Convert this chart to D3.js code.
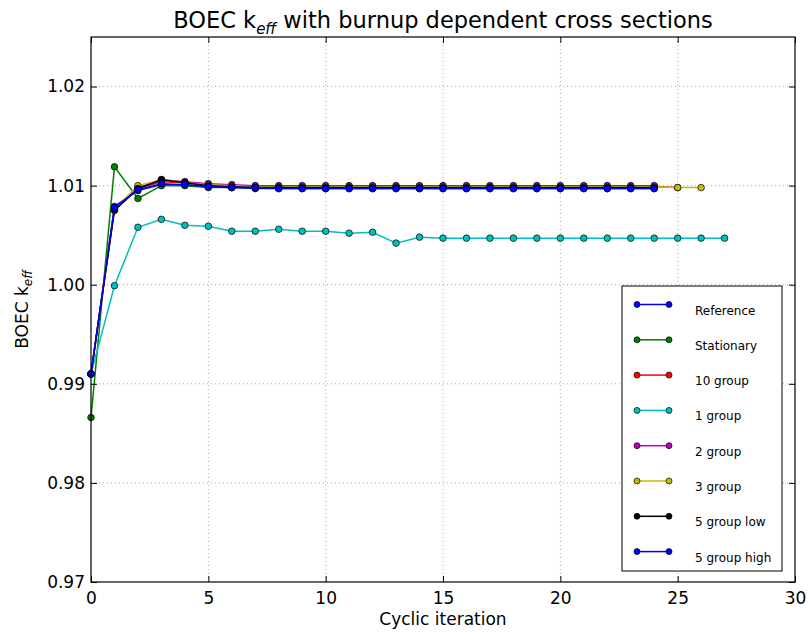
<!DOCTYPE html>
<html>
<head>
<meta charset="utf-8">
<script src="https://cdn.jsdelivr.net/npm/d3@7"></script>
<style>
  body { margin: 0; background: #fff; }
  text { font-family: "DejaVu Sans", sans-serif; }
</style>
</head>
<body>
<div id="chart"></div>
<script>
// series values (x = cyclic iteration index)
var reference   = [0.9910, 1.0079, 1.0095, 1.0101, 1.0101, 1.0099, 1.0098, 1.0097, 1.0097, 1.0097, 1.0097, 1.0097, 1.0097, 1.0097, 1.0097, 1.0097, 1.0097, 1.0097, 1.0097, 1.0097, 1.0097, 1.0097, 1.0097, 1.0097, 1.0097];
var stationary  = [0.9866, 1.0119, 1.0087, 1.0100, 1.0100, 1.0098, 1.0098, 1.0098, 1.0098, 1.0098, 1.0098, 1.0098, 1.0098, 1.0098, 1.0098, 1.0098, 1.0098, 1.0098, 1.0098, 1.0098, 1.0098, 1.0098, 1.0098, 1.0098, 1.0098];
var group10     = [0.9910, 1.0077, 1.0097, 1.0104, 1.0103, 1.0101, 1.0099, 1.0099, 1.0099, 1.0099, 1.0099, 1.0099, 1.0099, 1.0099, 1.0099, 1.0099, 1.0099, 1.0099, 1.0099, 1.0099, 1.0099, 1.0099, 1.0099, 1.0099, 1.0099, 1.0098];
var group1      = [0.9910, 0.9999, 1.0058, 1.0066, 1.0060, 1.0059, 1.0054, 1.0054, 1.0056, 1.0054, 1.0054, 1.0052, 1.0053, 1.0042, 1.0048, 1.0047, 1.0047, 1.0047, 1.0047, 1.0047, 1.0047, 1.0047, 1.0047, 1.0047, 1.0047, 1.0047, 1.0047, 1.0047];
var group2      = [0.9910, 1.0077, 1.0098, 1.0106, 1.0104, 1.0102, 1.0101, 1.0100, 1.0100, 1.0100, 1.0100, 1.0100, 1.0100, 1.0100, 1.0100, 1.0100, 1.0100, 1.0100, 1.0100, 1.0100, 1.0100, 1.0100, 1.0100, 1.0100, 1.0100];
var group3      = [0.9910, 1.0076, 1.0100, 1.0106, 1.0103, 1.0101, 1.0100, 1.0099, 1.0099, 1.0099, 1.0099, 1.0099, 1.0099, 1.0099, 1.0099, 1.0099, 1.0099, 1.0099, 1.0099, 1.0099, 1.0099, 1.0099, 1.0099, 1.0099, 1.0099, 1.0098, 1.0098];
var group5low   = [0.9910, 1.0075, 1.0097, 1.0106, 1.0103, 1.0100, 1.0099, 1.0098, 1.0098, 1.0098, 1.0098, 1.0098, 1.0098, 1.0098, 1.0098, 1.0098, 1.0098, 1.0098, 1.0098, 1.0098, 1.0098, 1.0098, 1.0098, 1.0098, 1.0098];
var group5high  = [0.9910, 1.0078, 1.0096, 1.0102, 1.0101, 1.0099, 1.0098, 1.0098, 1.0097, 1.0097, 1.0097, 1.0097, 1.0097, 1.0097, 1.0097, 1.0097, 1.0097, 1.0097, 1.0097, 1.0097, 1.0097, 1.0097, 1.0097, 1.0097, 1.0097];

var seriesNames = ["Reference", "Stationary", "10 group", "1 group", "2 group", "3 group", "5 group low", "5 group high"];
var seriesData = [reference, stationary, group10, group1, group2, group3, group5low, group5high];
var seriesColors = ["#0000ff", "#008000", "#ff0000", "#00bfbf", "#bf00bf", "#bfbf00", "#000000", "#0000ff"];

var xTicks = [0, 5, 10, 15, 20, 25, 30];
var yTicks = [0.97, 0.98, 0.99, 1.00, 1.01, 1.02];

var svgWidth = 809;
var svgHeight = 633;
var margin = { top: 37, right: 14, bottom: 51, left: 91 };
var width = svgWidth - margin.left - margin.right;
var height = svgHeight - margin.top - margin.bottom;

var svg = d3.select("#chart")
  .append("svg")
  .attr("width", svgWidth)
  .attr("height", svgHeight);

var chartGroup = svg.append("g")
  .attr("transform", `translate(${margin.left}, ${margin.top})`);

var xScale = d3.scaleLinear().domain([0, 30]).range([0, width]);
var yScale = d3.scaleLinear().domain([0.97, 1.025]).range([height, 0]);

// grid
chartGroup.append("g").selectAll("line.vx")
  .data(xTicks.slice(1, -1))
  .enter().append("line")
  .attr("x1", d => xScale(d)).attr("x2", d => xScale(d))
  .attr("y1", 0).attr("y2", height)
  .attr("stroke", "#aaa").attr("stroke-width", 1).attr("stroke-dasharray", "1,3");
chartGroup.append("g").selectAll("line.hy")
  .data(yTicks.slice(1))
  .enter().append("line")
  .attr("y1", d => yScale(d)).attr("y2", d => yScale(d))
  .attr("x1", 0).attr("x2", width)
  .attr("stroke", "#aaa").attr("stroke-width", 1).attr("stroke-dasharray", "1,3");

// lines + markers
var line = d3.line()
  .x((d, i) => xScale(i))
  .y(d => yScale(d));

seriesData.forEach(function(vals, k) {
  chartGroup.append("path")
    .datum(vals)
    .attr("d", line)
    .attr("fill", "none")
    .attr("stroke", seriesColors[k])
    .attr("stroke-width", 1.5);
  chartGroup.selectAll(null)
    .data(vals)
    .enter().append("circle")
    .attr("cx", (d, i) => xScale(i))
    .attr("cy", d => yScale(d))
    .attr("r", 3.3)
    .attr("fill", seriesColors[k])
    .attr("stroke", "#000")
    .attr("stroke-width", 0.7);
});

// axes with inward ticks on all sides
var xAxis = d3.axisBottom(xScale).tickValues(xTicks).tickSize(-6).tickPadding(6).tickFormat(d3.format("d"));
var yAxis = d3.axisLeft(yScale).tickValues(yTicks).tickSize(-6).tickPadding(6).tickFormat(d3.format(".2f"));

var gx = chartGroup.append("g").attr("transform", `translate(0, ${height})`).call(xAxis);
var gy = chartGroup.append("g").call(yAxis);
var gxTop = chartGroup.append("g").call(d3.axisTop(xScale).tickValues(xTicks).tickSize(-6).tickFormat(""));
var gyRight = chartGroup.append("g").attr("transform", `translate(${width}, 0)`)
  .call(d3.axisRight(yScale).tickValues(yTicks).tickSize(-6).tickFormat(""));

[gx, gy, gxTop, gyRight].forEach(function(g) {
  g.select(".domain").remove();
  g.selectAll(".tick line").attr("stroke", "#000").attr("stroke-width", 1);
  g.selectAll("text").attr("font-size", 17).attr("fill", "#000")
    .style("font-family", "DejaVu Sans, sans-serif");
});
gx.selectAll("text").attr("dy", "0.95em");

chartGroup.append("rect")
  .attr("width", width).attr("height", height)
  .attr("fill", "none").attr("stroke", "#000").attr("stroke-width", 1.2);

// title
var title = svg.append("text")
  .attr("x", margin.left + width / 2)
  .attr("y", 28)
  .attr("text-anchor", "middle")
  .attr("font-size", 22.5);
title.append("tspan").text("BOEC k");
title.append("tspan").attr("dy", 6).attr("font-size", 15).attr("font-style", "italic").text("eff");
title.append("tspan").attr("dy", -6).text(" with burnup dependent cross sections");

// axis labels
svg.append("text")
  .attr("x", margin.left + width / 2)
  .attr("y", 625)
  .attr("text-anchor", "middle")
  .attr("font-size", 17)
  .text("Cyclic iteration");

var ylab = svg.append("text")
  .attr("transform", `translate(28, ${margin.top + height / 2}) rotate(-90)`)
  .attr("text-anchor", "middle")
  .attr("font-size", 17);
ylab.append("tspan").text("BOEC k");
ylab.append("tspan").attr("dy", 4).attr("font-size", 12).attr("font-style", "italic").text("eff");

// legend
var legend = svg.append("g").attr("transform", "translate(622, 286)");
legend.append("rect")
  .attr("width", 160).attr("height", 285)
  .attr("fill", "#fff").attr("stroke", "#000").attr("stroke-width", 1);

var items = legend.selectAll("g.item")
  .data(seriesNames)
  .enter().append("g")
  .attr("transform", (d, i) => `translate(0, ${18.5 + i * 35.3})`);
items.append("line")
  .attr("x1", 15).attr("x2", 47)
  .attr("stroke", (d, i) => seriesColors[i]).attr("stroke-width", 1.5);
items.selectAll("circle")
  .data((d, i) => [[15, seriesColors[i]], [47, seriesColors[i]]])
  .enter().append("circle")
  .attr("cx", d => d[0]).attr("r", 3)
  .attr("fill", d => d[1]).attr("stroke", "#000").attr("stroke-width", 0.7);
items.append("text")
  .attr("x", 73).attr("y", 10)
  .attr("font-size", 12)
  .text(d => d);
</script>
</body>
</html>
